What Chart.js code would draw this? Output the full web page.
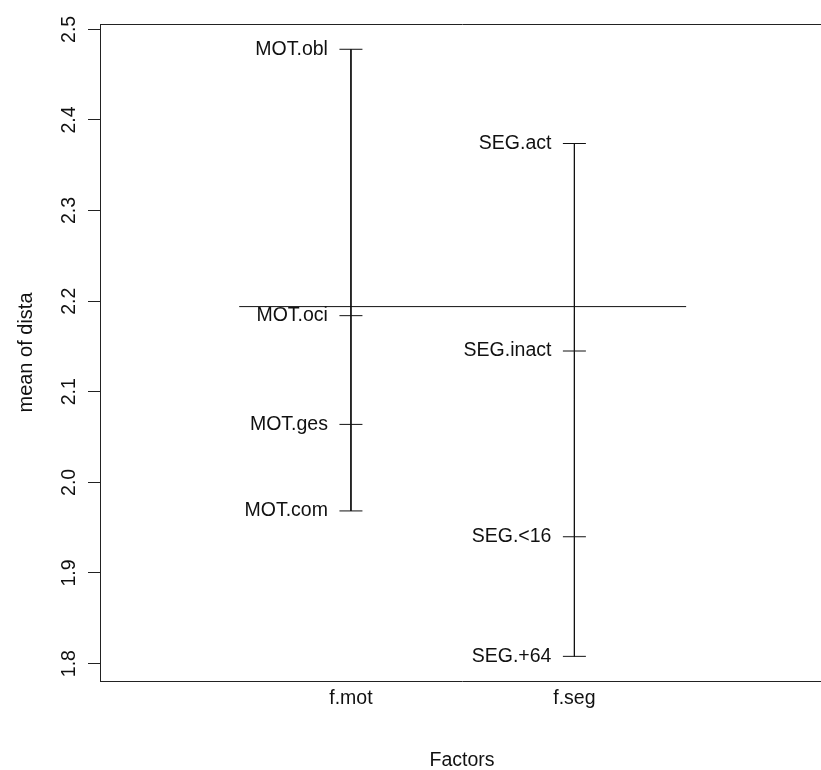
<!DOCTYPE html>
<html>
<head>
<meta charset="utf-8">
<script src="https://cdn.jsdelivr.net/npm/chart.js@4"></script>
<style>
  html, body { margin: 0; padding: 0; background: #ffffff; overflow: hidden; }
  #wrap { width: 840px; height: 770px; position: relative; }
</style>
</head>
<body>
<div id="wrap"><canvas id="c" width="840" height="770"></canvas></div>
<script>
// ---- data ----
const factors = ['f.mot', 'f.seg'];
const motLevels = ['MOT.obl', 'MOT.oci', 'MOT.ges', 'MOT.com'];
const motMeans  = [2.478, 2.184, 2.064, 1.9685];
const segLevels = ['SEG.act', 'SEG.inact', 'SEG.<16', 'SEG.+64'];
const segMeans  = [2.374, 2.145, 1.940, 1.808];
const grandMean = 2.194;
const yTicks = [1.8, 1.9, 2.0, 2.1, 2.2, 2.3, 2.4, 2.5];
const xTitle = 'Factors';
const yTitle = 'mean of dista';

const FONT = "'Liberation Sans', Arial, sans-serif";
const FS = 19.5;
const INK = '#111111';

const groups = [
  { levels: motLevels, means: motMeans },
  { levels: segLevels, means: segMeans }
];

const datasets = groups.map((g, gi) => ({
  data: g.means.map(v => ({ x: gi + 1, y: v })),
  borderColor: INK,
  borderWidth: 1,
  pointStyle: 'line',
  pointRadius: 11.5,
  pointBorderColor: INK,
  pointBorderWidth: 1,
  pointHoverRadius: 11.5,
  fill: false,
  tension: 0
}));
datasets.push({
  data: [{ x: 0.5, y: grandMean }, { x: factors.length + 0.5, y: grandMean }],
  borderColor: INK,
  borderWidth: 1,
  pointRadius: 0,
  fill: false
});

const levelLabels = {
  id: 'levelLabels',
  afterDatasetsDraw(chart) {
    const { ctx, scales: { x, y } } = chart;
    ctx.save();
    ctx.font = FS + 'px ' + FONT;
    ctx.fillStyle = INK;
    ctx.textAlign = 'right';
    ctx.textBaseline = 'middle';
    groups.forEach((g, gi) => {
      const px = x.getPixelForValue(gi + 1) - 23;
      g.levels.forEach((lab, i) => {
        ctx.fillText(lab, px, y.getPixelForValue(g.means[i]));
      });
    });
    ctx.restore();
  }
};

new Chart(document.getElementById('c'), {
  type: 'line',
  data: { datasets },
  plugins: [levelLabels],
  options: {
    responsive: false,
    animation: false,
    events: [],
    layout: { padding: { left: 0, right: 16, top: 24, bottom: 0 } },
    plugins: { legend: { display: false }, tooltip: { enabled: false } },
    scales: {
      x: {
        type: 'linear',
        position: 'bottom',
        min: -0.123,
        max: 3.117,
        afterBuildTicks: s => { s.ticks = factors.map((f, i) => ({ value: i + 1 })); },
        afterFit: s => { s.height = 89; },
        grid: { display: false, drawTicks: false, tickLength: 0 },
        border: { display: true, color: '#222', width: 1 },
        ticks: {
          color: INK,
          font: { family: FONT, size: FS },
          padding: 6,
          maxRotation: 0,
          callback: v => factors[Math.round(v) - 1] || ''
        },
        title: {
          display: true,
          text: xTitle,
          color: INK,
          font: { family: FONT, size: FS, lineHeight: 1 },
          padding: { top: 0, bottom: 0 }
        }
      },
      xTop: {
        type: 'linear',
        position: 'top',
        min: -0.123,
        max: 3.117,
        afterFit: s => { s.height = 0; },
        grid: { display: false, drawTicks: false },
        border: { display: true, color: '#222', width: 1 },
        ticks: { display: false }
      },
      y: {
        type: 'linear',
        position: 'left',
        min: 1.7808,
        max: 2.5059,
        afterBuildTicks: s => { s.ticks = yTicks.map(v => ({ value: v })); },
        afterFit: s => { s.width = 100; },
        grid: { drawOnChartArea: false, drawTicks: true, tickLength: 12, color: '#222', tickColor: '#222' },
        border: { display: true, color: '#222', width: 1 },
        ticks: {
          color: INK,
          font: { family: FONT, size: FS },
          minRotation: 90,
          maxRotation: 90,
          crossAlign: 'center',
          padding: 5,
          callback: v => Number(v).toFixed(1)
        },
        title: {
          display: true,
          text: yTitle,
          color: INK,
          font: { family: FONT, size: 20, lineHeight: 1 },
          padding: { top: 16, bottom: 0 }
        }
      }
    }
  }
});
</script>
</body>
</html>
